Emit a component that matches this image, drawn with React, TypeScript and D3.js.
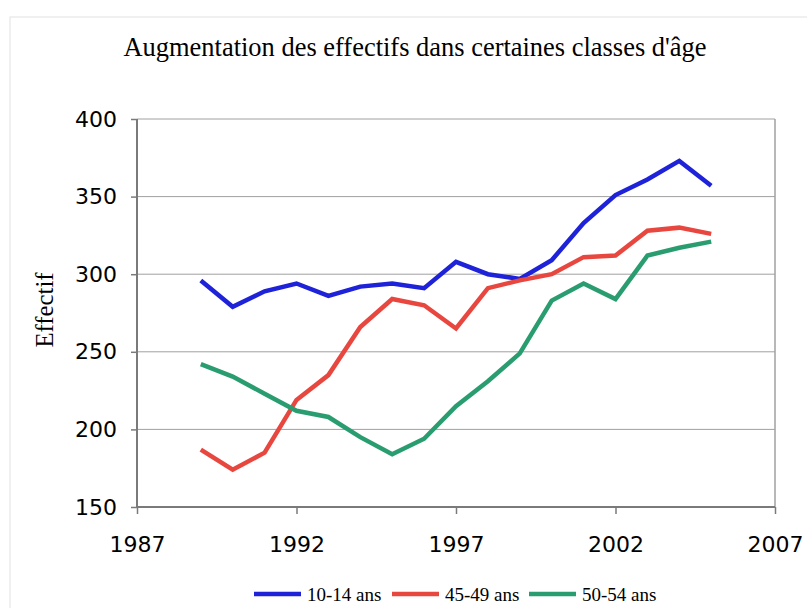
import React, { useEffect, useRef } from "react";
import * as d3 from "d3";

// years covered by the three age classes
const years = [1989, 1990, 1991, 1992, 1993, 1994, 1995, 1996, 1997, 1998, 1999, 2000, 2001, 2002, 2003, 2004, 2005];

const ans10_14 = [296, 279, 289, 294, 286, 292, 294, 291, 308, 300, 297, 309, 333, 351, 361, 373, 357];
const ans45_49 = [187, 174, 185, 219, 235, 266, 284, 280, 265, 291, 296, 300, 311, 312, 328, 330, 326];
const ans50_54 = [242, 234, 223, 212, 208, 195, 184, 194, 215, 231, 249, 283, 294, 284, 312, 317, 321];

const seriesNames = ["10-14 ans", "45-49 ans", "50-54 ans"];
const seriesColors = ["#1e22d8", "#e8473f", "#2a9d70"];

const xTicks = [1987, 1992, 1997, 2002, 2007];
const yTicks = [150, 200, 250, 300, 350, 400];

export default function App() {
  const ref = useRef<SVGSVGElement>(null);

  useEffect(() => {
    const svg = d3.select(ref.current);
    svg.selectAll("*").remove();

    const left = 137, right = 775, top = 119, bottom = 507;
    const serif = "'Liberation Serif', 'Times New Roman', serif";
    const sans = "'DejaVu Sans', Verdana, sans-serif";

    const x = d3.scaleLinear().domain([1987, 2007]).range([left, right]);
    const y = d3.scaleLinear().domain([150, 400]).range([bottom, top]);

    // outer frame
    svg.append("rect")
      .attr("x", 10).attr("y", 17).attr("width", 820).attr("height", 620)
      .attr("fill", "white").attr("stroke", "#e2e2e2");

    // title
    svg.append("text")
      .attr("x", 415).attr("y", 56)
      .attr("text-anchor", "middle")
      .attr("font-family", serif)
      .attr("font-size", 28)
      .attr("textLength", 583)
      .attr("lengthAdjust", "spacingAndGlyphs")
      .text("Augmentation des effectifs dans certaines classes d'âge");

    // gridlines
    svg.append("g").selectAll("line")
      .data(yTicks.slice(1))
      .join("line")
      .attr("x1", left).attr("x2", right)
      .attr("y1", d => y(d)).attr("y2", d => y(d))
      .attr("stroke", "#a0a0a0").attr("stroke-width", 1);

    // plot frame (right side)
    svg.append("line")
      .attr("x1", right).attr("x2", right).attr("y1", top).attr("y2", bottom)
      .attr("stroke", "#a0a0a0").attr("stroke-width", 1.5);

    // y axis
    const yAxis = svg.append("g")
      .attr("transform", `translate(${left},0)`)
      .call(d3.axisLeft(y).tickValues(yTicks).tickSize(6).tickPadding(14).tickFormat(d3.format("d")));
    yAxis.select(".domain").attr("stroke", "#7a7a7a").attr("stroke-width", 2).attr("d", `M0,${top}V${bottom}`);
    yAxis.selectAll(".tick line").attr("stroke", "#7a7a7a").attr("stroke-width", 1.5);
    yAxis.selectAll("text")
      .attr("font-family", sans)
      .attr("font-size", 22).attr("fill", "#000");

    // x axis
    const xAxis = svg.append("g")
      .attr("transform", `translate(0,${bottom})`)
      .call(d3.axisBottom(x).tickValues(xTicks).tickSize(7).tickFormat(d3.format("d")));
    xAxis.select(".domain").attr("stroke", "#7a7a7a").attr("stroke-width", 2).attr("d", `M${left},0H${right}`);
    xAxis.selectAll(".tick line").attr("stroke", "#7a7a7a").attr("stroke-width", 1.5);
    xAxis.selectAll("text")
      .attr("y", 45).attr("dy", 0)
      .attr("font-family", sans)
      .attr("font-size", 22).attr("fill", "#000");

    // y label
    svg.append("text")
      .attr("transform", `translate(53,310) rotate(-90)`)
      .attr("text-anchor", "middle")
      .attr("font-family", serif)
      .attr("font-size", 25)
      .attr("textLength", 75)
      .attr("lengthAdjust", "spacingAndGlyphs")
      .text("Effectif");

    // lines
    const allSeries = [ans10_14, ans45_49, ans50_54];
    const line = d3.line<number>()
      .x((d, i) => x(years[i]))
      .y(d => y(d));

    allSeries.forEach((s, k) => {
      svg.append("path")
        .datum(s)
        .attr("d", line)
        .attr("fill", "none")
        .attr("stroke", seriesColors[k])
        .attr("stroke-width", 4.5)
        .attr("stroke-linejoin", "miter");
    });

    // legend
    const legendX = [254, 392, 529];
    const legend = svg.append("g");
    seriesNames.forEach((name, k) => {
      legend.append("line")
        .attr("x1", legendX[k]).attr("x2", legendX[k] + 47)
        .attr("y1", 594).attr("y2", 594)
        .attr("stroke", seriesColors[k]).attr("stroke-width", 4.5);
      legend.append("text")
        .attr("x", legendX[k] + 53).attr("y", 600.5)
        .attr("font-family", serif)
        .attr("font-size", 19)
        .text(name);
    });
  }, []);

  return (
    <svg ref={ref} width={807} height={608} style={{ position: "absolute", left: 0, top: 0, background: "white" }} />
  );
}
